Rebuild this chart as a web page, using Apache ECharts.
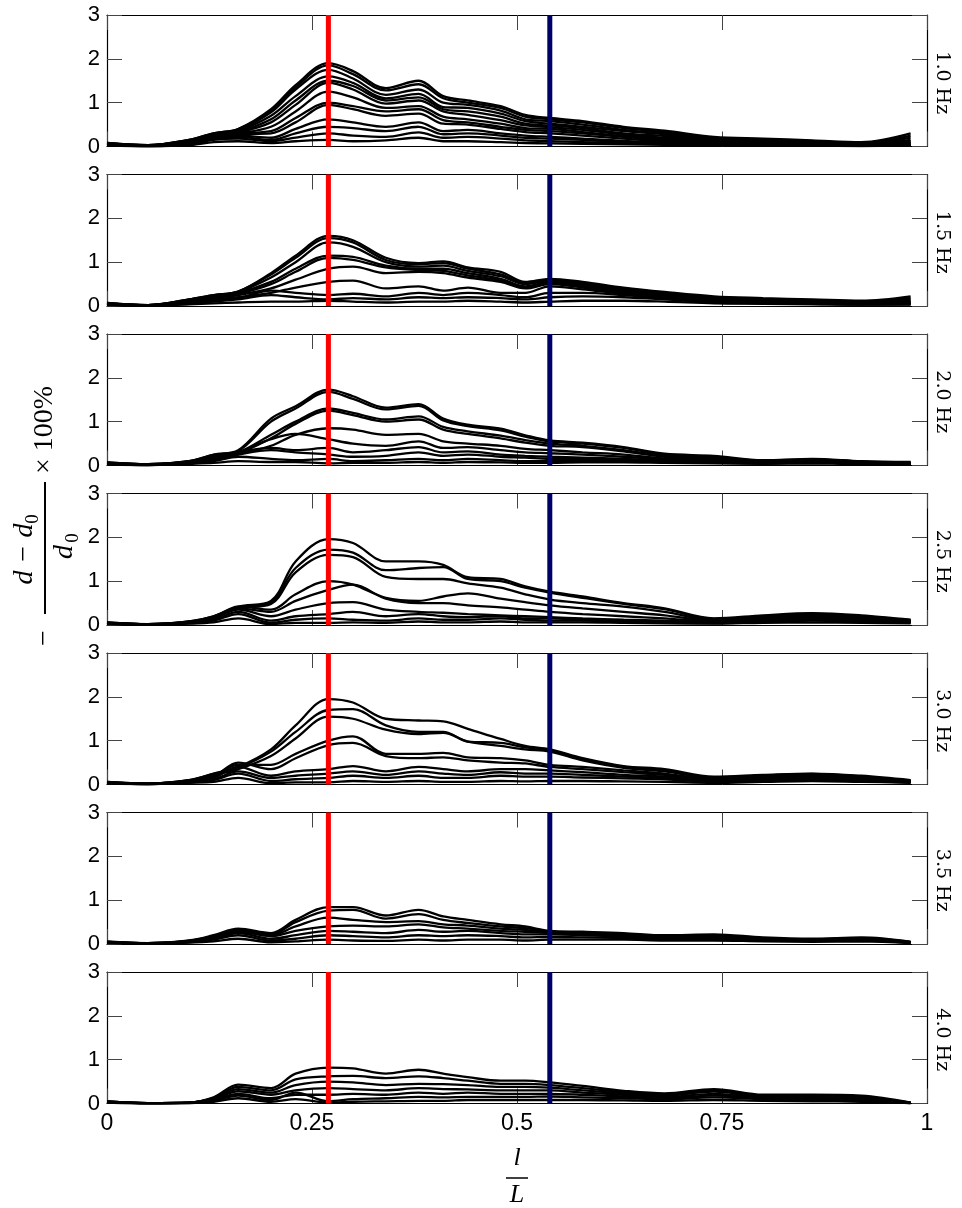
<!DOCTYPE html>
<html>
<head>
<meta charset="utf-8">
<script src="https://cdn.jsdelivr.net/npm/echarts@6/dist/echarts.min.js"></script>
<style>html,body{margin:0;padding:0;background:#fff}#c{width:962px;height:1208px}</style>
</head>
<body>
<div id="c"></div>
<script>
// ---- data ----
const xPositions = [0, .05, .1, .13, .16, .2, .23, .27, .3, .34, .38, .41, .44, .48, .51, .54, .58, .63, .68, .74, .8, .86, .92, .98];
const panelLabels = ['1.0 Hz', '1.5 Hz', '2.0 Hz', '2.5 Hz', '3.0 Hz', '3.5 Hz', '4.0 Hz'];
const xTicks = [0, 0.25, 0.5, 0.75, 1];
const yTicks = [0, 1, 2, 3];
const markerRed = 0.27;
const markerNavy = 0.54;

const curves10 = [
 [.08,.03,.15,.3,.4,.85,1.4,1.9,1.72,1.33,1.5,1.15,1.05,.92,.72,.65,.58,.45,.36,.22,.18,.14,.1,.3],
 [.08,.03,.15,.3,.4,.82,1.35,1.85,1.65,1.28,1.42,1.1,1.0,.88,.68,.62,.55,.42,.33,.2,.16,.12,.08,.25],
 [.07,.03,.14,.28,.38,.78,1.3,1.75,1.55,1.18,1.3,1.0,.95,.82,.62,.58,.5,.38,.3,.18,.14,.1,.06,.2],
 [.07,.03,.13,.27,.36,.7,1.15,1.6,1.45,1.1,1.2,.9,.88,.75,.58,.52,.45,.35,.28,.16,.12,.08,.05,.15],
 [.06,.02,.12,.26,.34,.62,1.05,1.5,1.38,1.05,1.12,.85,.8,.68,.52,.48,.42,.3,.24,.14,.1,.07,.05,.12],
 [.06,.02,.12,.25,.32,.55,.95,1.45,1.3,.98,1.05,.8,.72,.6,.48,.44,.38,.27,.2,.12,.09,.06,.04,.1],
 [.05,.02,.1,.24,.3,.45,.8,1.25,1.12,.88,.92,.68,.62,.52,.42,.4,.33,.24,.18,.1,.08,.05,.04,.08],
 [.05,.02,.1,.24,.3,.35,.65,1.0,.92,.8,.85,.6,.55,.45,.38,.35,.3,.22,.15,.09,.07,.05,.03,.06],
 [.04,.02,.08,.22,.28,.3,.55,.95,.85,.7,.75,.52,.5,.4,.33,.3,.25,.18,.12,.08,.06,.04,.03,.05],
 [.03,.01,.06,.2,.25,.2,.4,.62,.55,.45,.55,.35,.38,.3,.25,.22,.18,.13,.1,.06,.05,.04,.03,.04],
 [.03,.01,.05,.18,.22,.15,.3,.45,.42,.35,.45,.28,.3,.25,.2,.18,.15,.1,.08,.05,.04,.03,.02,.03],
 [.02,.01,.04,.15,.18,.12,.2,.3,.25,.22,.32,.2,.22,.18,.14,.12,.1,.08,.06,.04,.03,.02,.02,.02],
 [.02,.01,.03,.1,.12,.08,.12,.15,.12,.14,.2,.12,.12,.1,.08,.07,.06,.05,.04,.03,.02,.02,.01,.02]
];
const curves15 = [
 [.07,.02,.15,.25,.33,.75,1.15,1.6,1.5,1.1,.98,1.02,.88,.78,.55,.62,.55,.42,.32,.22,.18,.15,.12,.22],
 [.07,.02,.15,.25,.33,.72,1.1,1.55,1.45,1.05,.95,.98,.85,.72,.52,.6,.52,.4,.3,.2,.16,.13,.1,.18],
 [.06,.02,.14,.24,.32,.65,1.0,1.45,1.35,1.0,.9,.92,.8,.68,.5,.58,.5,.38,.28,.18,.14,.12,.08,.15],
 [.06,.02,.13,.22,.3,.55,.85,1.15,1.12,.92,.85,.85,.75,.62,.45,.55,.48,.35,.26,.16,.12,.1,.07,.12],
 [.05,.02,.12,.2,.28,.5,.78,1.1,1.05,.88,.82,.8,.7,.58,.42,.52,.45,.33,.24,.15,.11,.09,.06,.1],
 [.05,.02,.1,.18,.25,.4,.6,.85,.9,.75,.78,.75,.65,.55,.4,.5,.42,.3,.22,.13,.1,.08,.05,.08],
 [.04,.01,.08,.15,.2,.3,.42,.55,.58,.4,.45,.35,.42,.3,.3,.45,.38,.28,.2,.12,.09,.07,.05,.07],
 [.03,.01,.06,.12,.18,.35,.3,.25,.28,.22,.3,.25,.3,.25,.2,.3,.3,.25,.18,.1,.08,.06,.04,.05],
 [.03,.01,.05,.1,.15,.25,.2,.15,.18,.15,.2,.18,.2,.18,.15,.2,.22,.2,.15,.08,.06,.05,.03,.04],
 [.02,.01,.04,.06,.08,.1,.1,.12,.1,.08,.1,.1,.12,.1,.08,.1,.12,.12,.1,.06,.05,.04,.03,.03]
];
const curves20 = [
 [.07,.03,.1,.25,.35,1.07,1.35,1.73,1.58,1.32,1.4,1.07,.93,.84,.69,.57,.52,.42,.27,.22,.12,.15,.1,.08],
 [.07,.03,.1,.24,.33,1.0,1.3,1.68,1.52,1.28,1.36,1.03,.9,.8,.66,.55,.5,.4,.25,.2,.11,.14,.09,.07],
 [.06,.03,.09,.22,.3,.7,1.0,1.3,1.2,1.05,1.12,.88,.78,.68,.58,.5,.45,.35,.22,.17,.1,.13,.08,.06],
 [.06,.02,.09,.2,.28,.62,.95,1.25,1.15,1.0,1.05,.82,.72,.62,.52,.45,.42,.32,.2,.15,.1,.12,.08,.06],
 [.05,.02,.08,.18,.26,.45,.7,.85,.82,.7,.72,.55,.5,.45,.38,.35,.3,.25,.16,.12,.08,.1,.06,.05],
 [.05,.02,.08,.18,.3,.6,.72,.6,.5,.45,.55,.4,.42,.35,.3,.28,.25,.2,.14,.1,.07,.09,.05,.04],
 [.04,.02,.07,.15,.3,.4,.35,.4,.3,.35,.42,.3,.32,.25,.22,.2,.18,.15,.12,.08,.06,.08,.05,.04],
 [.04,.01,.06,.12,.25,.35,.3,.25,.2,.22,.3,.22,.25,.2,.18,.15,.15,.12,.1,.07,.05,.07,.04,.03],
 [.03,.01,.05,.1,.2,.15,.12,.15,.1,.12,.15,.12,.15,.12,.1,.1,.1,.1,.08,.06,.05,.06,.04,.03],
 [.02,.01,.04,.06,.1,.08,.08,.05,.06,.06,.08,.06,.08,.07,.06,.06,.07,.07,.06,.05,.04,.05,.03,.02]
];
const curves25 = [
 [.06,.02,.08,.2,.42,.55,1.45,1.96,1.87,1.45,1.45,1.37,1.09,1.05,.88,.76,.65,.5,.38,.15,.22,.27,.22,.12],
 [.06,.02,.08,.2,.4,.52,1.3,1.72,1.65,1.25,1.3,1.32,1.05,1.0,.85,.74,.62,.48,.36,.14,.2,.26,.2,.11],
 [.05,.02,.07,.18,.38,.48,1.2,1.6,1.55,1.1,1.05,1.05,.95,.85,.7,.58,.5,.42,.3,.12,.18,.24,.18,.1],
 [.05,.02,.07,.18,.42,.35,.7,1.0,.92,.62,.55,.65,.72,.6,.52,.45,.38,.3,.22,.1,.15,.2,.15,.08],
 [.04,.02,.06,.16,.38,.3,.55,.8,.92,.6,.5,.5,.45,.4,.35,.3,.25,.2,.15,.08,.12,.18,.14,.08],
 [.04,.01,.06,.15,.35,.2,.35,.5,.52,.35,.3,.28,.25,.22,.2,.18,.15,.12,.1,.06,.1,.15,.12,.07],
 [.03,.01,.05,.12,.3,.1,.2,.25,.3,.2,.25,.2,.18,.2,.15,.15,.12,.1,.08,.05,.08,.12,.1,.06],
 [.03,.01,.04,.1,.25,.05,.12,.15,.12,.1,.15,.12,.12,.15,.12,.1,.1,.08,.06,.04,.07,.1,.08,.05],
 [.02,.01,.03,.06,.15,.02,.05,.05,.06,.05,.08,.06,.06,.08,.06,.06,.06,.05,.04,.03,.05,.06,.05,.04]
];
const curves30 = [
 [.06,.02,.1,.25,.4,.8,1.35,1.95,1.87,1.5,1.46,1.44,1.27,1.04,.88,.8,.6,.42,.35,.18,.22,.25,.2,.1],
 [.06,.02,.1,.24,.38,.75,1.2,1.7,1.72,1.35,1.2,1.2,.98,.95,.85,.78,.58,.4,.32,.16,.2,.24,.18,.09],
 [.05,.02,.09,.22,.35,.65,1.05,1.55,1.5,1.25,1.15,1.18,.98,.88,.8,.75,.55,.38,.3,.15,.19,.22,.17,.08],
 [.05,.02,.08,.2,.45,.45,.7,1.0,1.1,.7,.7,.72,.62,.6,.55,.45,.4,.32,.25,.12,.17,.2,.15,.08],
 [.04,.02,.08,.18,.5,.35,.6,.9,.95,.65,.6,.62,.55,.5,.48,.4,.35,.28,.22,.11,.15,.18,.14,.07],
 [.04,.01,.07,.15,.4,.2,.3,.35,.42,.3,.4,.35,.3,.35,.35,.32,.28,.22,.18,.1,.13,.16,.12,.06],
 [.03,.01,.06,.12,.3,.15,.2,.25,.3,.22,.3,.25,.22,.28,.25,.25,.22,.18,.15,.08,.11,.14,.1,.05],
 [.03,.01,.05,.1,.25,.08,.12,.15,.2,.15,.2,.15,.15,.2,.18,.18,.16,.14,.12,.07,.09,.12,.08,.05],
 [.02,.01,.04,.06,.15,.03,.05,.05,.08,.06,.08,.06,.06,.08,.07,.08,.08,.07,.06,.04,.06,.08,.06,.04]
];
const curves35 = [
 [.06,.02,.08,.2,.35,.25,.55,.84,.84,.65,.78,.63,.55,.45,.4,.3,.28,.25,.2,.22,.15,.12,.15,.05],
 [.05,.02,.07,.18,.33,.22,.5,.76,.78,.58,.68,.55,.48,.4,.36,.28,.26,.23,.18,.2,.13,.11,.13,.05],
 [.05,.02,.07,.17,.3,.2,.4,.6,.55,.5,.52,.45,.42,.35,.32,.27,.24,.21,.16,.18,.12,.1,.12,.04],
 [.04,.02,.06,.15,.28,.18,.3,.4,.42,.4,.45,.38,.35,.3,.28,.25,.22,.19,.15,.16,.11,.09,.11,.04],
 [.04,.01,.05,.12,.25,.12,.2,.3,.28,.25,.32,.28,.3,.25,.22,.22,.2,.17,.13,.14,.1,.08,.1,.03],
 [.03,.01,.04,.1,.2,.08,.12,.2,.18,.15,.2,.18,.2,.18,.15,.16,.15,.14,.11,.12,.08,.07,.08,.03],
 [.02,.01,.03,.06,.12,.04,.06,.1,.08,.07,.1,.08,.1,.1,.08,.1,.1,.1,.08,.08,.06,.05,.06,.02]
];
const curves40 = [
 [.05,.01,.02,.14,.43,.35,.68,.82,.8,.68,.77,.68,.6,.52,.52,.48,.4,.29,.23,.33,.2,.2,.18,.02],
 [.05,.01,.02,.13,.38,.3,.55,.62,.63,.58,.62,.58,.52,.45,.45,.42,.35,.26,.2,.3,.18,.18,.15,.02],
 [.04,.01,.02,.12,.33,.25,.42,.5,.48,.42,.45,.44,.42,.38,.38,.36,.3,.23,.18,.27,.16,.15,.12,.02],
 [.04,.01,.02,.1,.28,.2,.3,.35,.33,.3,.35,.33,.32,.3,.3,.3,.25,.2,.15,.22,.14,.12,.1,.02],
 [.03,.01,.02,.08,.22,.12,.2,.2,.22,.2,.25,.22,.25,.22,.22,.22,.2,.16,.12,.18,.12,.1,.08,.01],
 [.03,.01,.01,.06,.18,.08,.25,.05,.1,.12,.15,.14,.15,.15,.15,.16,.14,.12,.1,.14,.1,.08,.06,.01],
 [.02,0,.01,.04,.12,.04,.1,.02,.04,.05,.06,.06,.08,.08,.08,.08,.08,.07,.06,.08,.06,.05,.04,.01]
];
const panels = [curves10, curves15, curves20, curves25, curves30, curves35, curves40];

// ---- layout ----
const GL = 107, GW = 820, GT = 15, GH = 131.5, GS = 159.5;
const tickFont = 'Liberation Sans, Arial, Helvetica, sans-serif';
const serif = '"Liberation Serif", "Times New Roman", serif';

const grids = [], xAxes = [], yAxes = [], series = [], graphics = [];
panels.forEach((curves, i) => {
  const top = GT + i * GS;
  grids.push({left: GL, top: top, width: GW, height: GH, containLabel: false});
  const tickStyle = {show: true, inside: true, length: 15, lineStyle: {color: '#444', width: 1}};
  const lineStyle = {show: true, onZero: false, lineStyle: {color: '#000', width: 1.2}};
  xAxes.push({gridIndex: i, type: 'value', min: 0, max: 1, interval: 0.25, position: 'bottom',
    axisLine: lineStyle, axisTick: tickStyle, splitLine: {show: false},
    axisLabel: {show: i === panels.length - 1, fontSize: 23, color: '#000', fontFamily: tickFont, margin: 9,
      formatter: v => String(xTicks.find(t => Math.abs(t - v) < 1e-9))}});
  xAxes.push({gridIndex: i, type: 'value', min: 0, max: 1, interval: 0.25, position: 'top',
    axisLine: lineStyle, axisTick: tickStyle, splitLine: {show: false}, axisLabel: {show: false}});
  yAxes.push({gridIndex: i, type: 'value', min: 0, max: 3, interval: 1, position: 'left',
    axisLine: lineStyle, axisTick: tickStyle, splitLine: {show: false},
    axisLabel: {show: true, fontSize: 22, color: '#000', fontFamily: tickFont, margin: 7,
      formatter: v => String(yTicks.find(t => Math.abs(t - v) < 1e-9))}});
  yAxes.push({gridIndex: i, type: 'value', min: 0, max: 3, interval: 1, position: 'right',
    axisLine: lineStyle, axisTick: tickStyle, splitLine: {show: false}, axisLabel: {show: false}});

  curves.forEach(c => {
    series.push({type: 'line', xAxisIndex: 2 * i, yAxisIndex: 2 * i, showSymbol: false, symbol: 'none',
      smooth: 0.35, clip: true, silent: true, z: 2,
      lineStyle: {color: '#000', width: 2.3},
      data: xPositions.map((x, j) => [x, c[j]])});
  });
  [[markerRed, '#ff0000'], [markerNavy, '#000066']].forEach(([mx, col]) => {
    series.push({type: 'line', xAxisIndex: 2 * i, yAxisIndex: 2 * i, showSymbol: false, symbol: 'none',
      silent: true, z: 5, lineStyle: {color: col, width: 5},
      data: [[mx, 0], [mx, 3]]});
  });
  graphics.push({type: 'text', x: 942, y: top + GH / 2 + 2, rotation: -Math.PI / 2,
    style: {text: panelLabels[i], font: '19px "DejaVu Serif", serif', fill: '#000', textAlign: 'center', textVerticalAlign: 'middle'}});
});

// y-axis title (rotated fraction)
graphics.push({type: 'group', x: 45, y: 548, rotation: Math.PI / 2, children: [
  {type: 'text', x: -90, y: 0, style: {text: '\u2212', font: '28px ' + serif, fill: '#000', textAlign: 'center', textVerticalAlign: 'middle'}},
  {type: 'text', x: -6, y: -20, style: {text: 'd \u2212 d', font: 'italic 28px ' + serif, fill: '#000', textAlign: 'center', textVerticalAlign: 'middle'}},
  {type: 'text', x: 29, y: -12, style: {text: '0', font: '19px ' + serif, fill: '#000', textAlign: 'center', textVerticalAlign: 'middle'}},
  {type: 'line', shape: {x1: -66, y1: 0, x2: 66, y2: 0}, style: {stroke: '#000', lineWidth: 2}},
  {type: 'text', x: -4, y: 20, style: {text: 'd', font: 'italic 28px ' + serif, fill: '#000', textAlign: 'center', textVerticalAlign: 'middle'}},
  {type: 'text', x: 10, y: 28, style: {text: '0', font: '19px ' + serif, fill: '#000', textAlign: 'center', textVerticalAlign: 'middle'}},
  {type: 'text', x: 74, y: 0, style: {text: '\u00d7 100%', font: '28px ' + serif, fill: '#000', textAlign: 'left', textVerticalAlign: 'middle'}}
]});
// x-axis title
graphics.push({type: 'text', x: 517, y: 1158, style: {text: 'l', font: 'italic 26px ' + serif, fill: '#000', textAlign: 'center', textVerticalAlign: 'middle'}});
graphics.push({type: 'line', shape: {x1: 506, y1: 1178, x2: 528, y2: 1178}, style: {stroke: '#000', lineWidth: 1.5}});
graphics.push({type: 'text', x: 517, y: 1195, style: {text: 'L', font: 'italic 26px ' + serif, fill: '#000', textAlign: 'center', textVerticalAlign: 'middle'}});

const chart = echarts.init(document.getElementById('c'), null, {renderer: 'canvas'});
chart.setOption({
  animation: false,
  backgroundColor: '#fff',
  grid: grids, xAxis: xAxes, yAxis: yAxes, series: series, graphic: graphics
});
</script>
</body>
</html>
